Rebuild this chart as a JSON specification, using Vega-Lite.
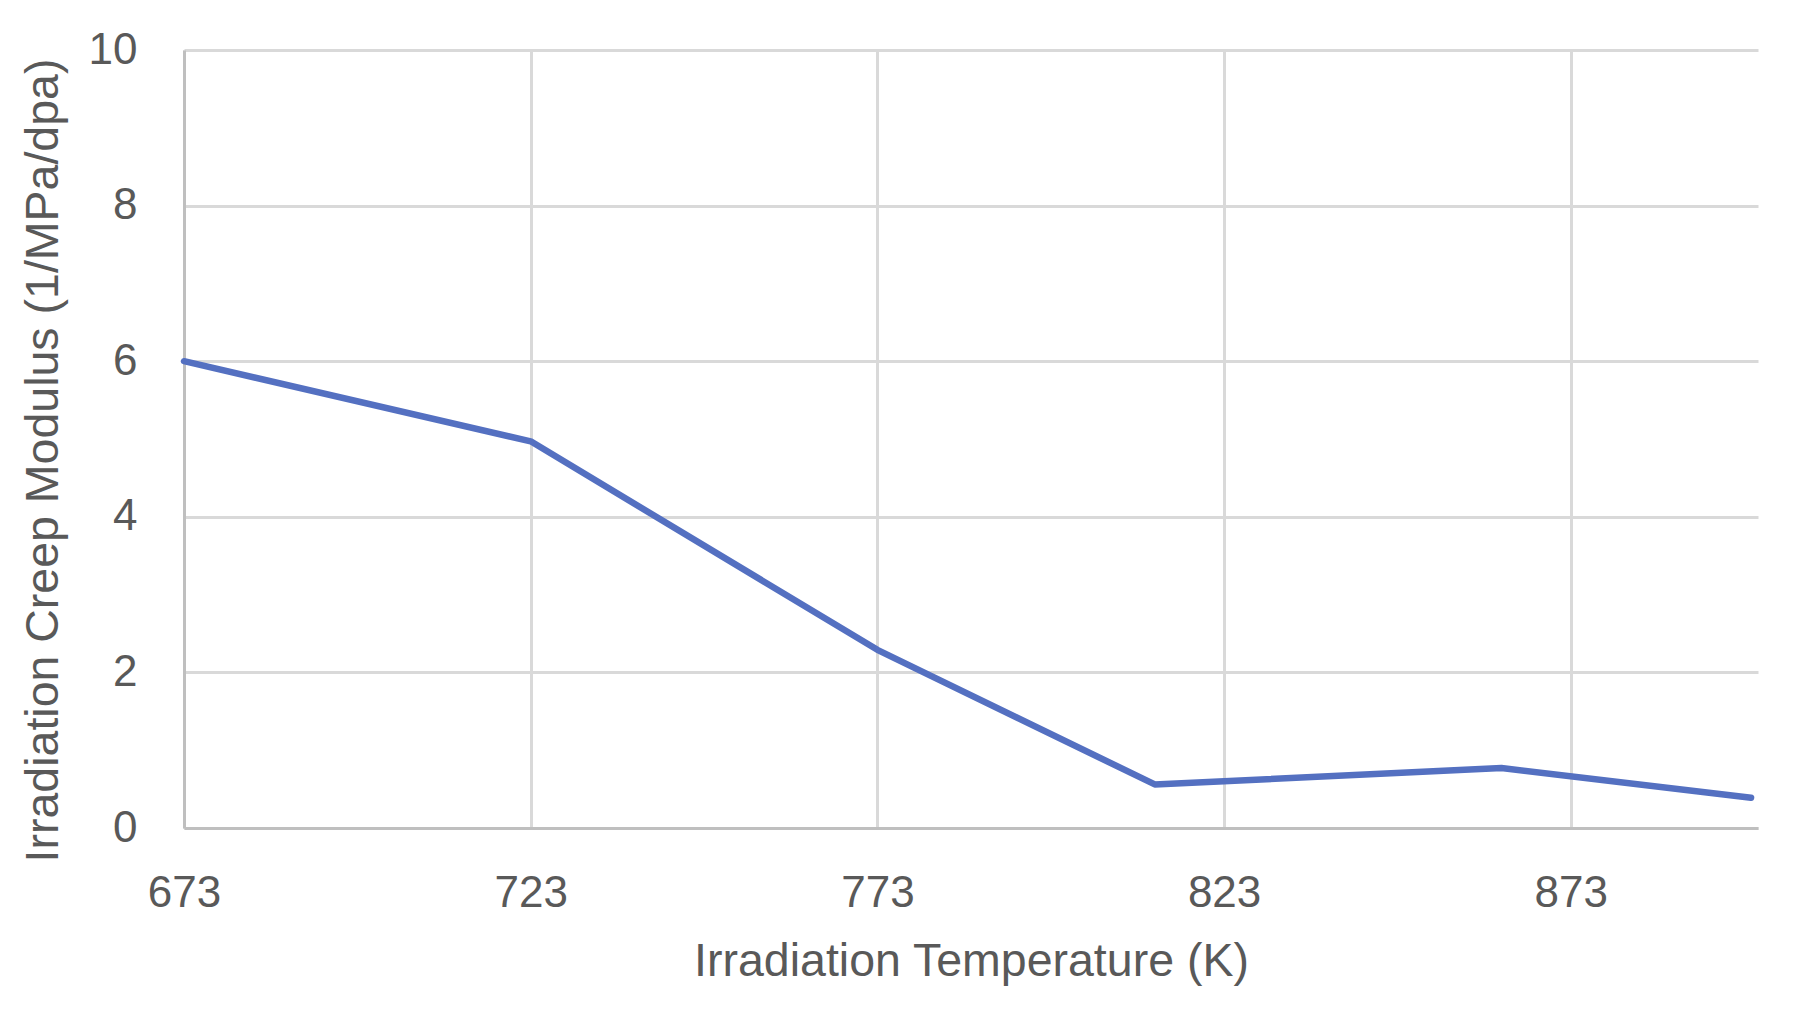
{
  "$schema": "https://vega.github.io/schema/vega-lite/v6.json",
  "width": 1574,
  "height": 778,
  "autosize": {"type": "none"},
  "padding": {"left": 184, "top": 50, "right": 52, "bottom": 186},
  "background": "white",
  "config": {
    "view": {"stroke": null},
    "font": "Liberation Sans",
    "axis": {
      "labelFont": "Liberation Sans",
      "titleFont": "Liberation Sans",
      "labelColor": "#595959",
      "titleColor": "#595959",
      "titleFontWeight": "normal",
      "labelFontSize": 44,
      "titleFontSize": 46.5,
      "gridColor": "#d9d9d9",
      "gridWidth": 3,
      "domainColor": "#bfbfbf",
      "domainWidth": 3,
      "ticks": false
    }
  },
  "data": {
    "values": [
      {"temperature": 673, "modulus": 6.0},
      {"temperature": 723, "modulus": 4.97},
      {"temperature": 773, "modulus": 2.29},
      {"temperature": 813, "modulus": 0.56},
      {"temperature": 863, "modulus": 0.77},
      {"temperature": 899, "modulus": 0.39}
    ]
  },
  "mark": {"type": "line", "color": "#5470c1", "strokeWidth": 6.5, "strokeCap": "round", "strokeJoin": "round"},
  "encoding": {
    "x": {
      "field": "temperature",
      "type": "quantitative",
      "scale": {"domain": [673, 900], "nice": false, "zero": false},
      "axis": {
        "title": "Irradiation Temperature (K)",
        "values": [673, 723, 773, 823, 873],
        "labelPadding": 43,
        "titlePadding": 23,
        "labelFlush": false,
        "labelOverlap": false
      }
    },
    "y": {
      "field": "modulus",
      "type": "quantitative",
      "scale": {"domain": [0, 10], "nice": false},
      "axis": {
        "title": "Irradiation Creep Modulus (1/MPa/dpa)",
        "values": [0, 2, 4, 6, 8, 10],
        "labelPadding": 47,
        "titlePadding": 21,
        "titleY": 410,
        "labelFlush": false,
        "labelOverlap": false
      }
    }
  }
}
